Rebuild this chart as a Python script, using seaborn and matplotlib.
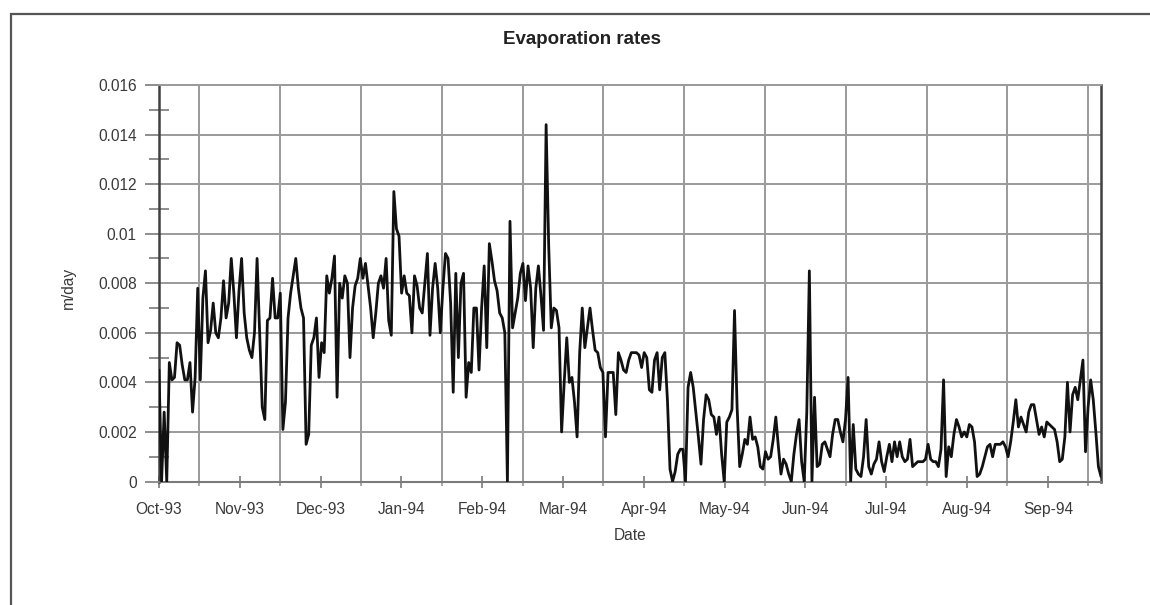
import numpy as np
import pandas as pd
import matplotlib
matplotlib.use("Agg")
import matplotlib.pyplot as plt
from matplotlib.patches import Rectangle
from matplotlib.ticker import FixedLocator
import seaborn as sns

# ---- data (m/day), daily values, Oct-93 .. Sep-94 ----
oct93 = [0.0045, 0.0, 0.0028, 0.0, 0.0048, 0.0041, 0.0042, 0.0056, 0.0055, 0.0047,
         0.0041, 0.0041, 0.0048, 0.0028, 0.0042, 0.0078, 0.0041, 0.0074, 0.0085, 0.0056,
         0.0061, 0.0072, 0.0060, 0.0058, 0.0066, 0.0081, 0.0066, 0.0072, 0.0090, 0.0076,
         0.0058]
nov93 = [0.0077, 0.0090, 0.0068, 0.0058, 0.0053, 0.0050, 0.0060, 0.0090, 0.0060,
         0.0030, 0.0025, 0.0065, 0.0066, 0.0082, 0.0066, 0.0066, 0.0076, 0.0021, 0.0032,
         0.0066, 0.0076, 0.0083, 0.0090, 0.0078, 0.0070, 0.0066, 0.0015, 0.0019, 0.0055,
         0.0058]
dec93 = [0.0066, 0.0042, 0.0056, 0.0052, 0.0083, 0.0076, 0.0082, 0.0091, 0.0034,
         0.0080, 0.0074, 0.0083, 0.0080, 0.0050, 0.0070, 0.0079, 0.0082, 0.0090, 0.0082,
         0.0088, 0.0079, 0.0070, 0.0058, 0.0068, 0.0080, 0.0083, 0.0078, 0.0090, 0.0065,
         0.0059, 0.0117]
jan94 = [0.0102, 0.0099, 0.0076, 0.0083, 0.0076, 0.0075, 0.0060, 0.0083,
         0.0079, 0.0070, 0.0068, 0.0080, 0.0092, 0.0059, 0.0078, 0.0088, 0.0078, 0.0060,
         0.0078, 0.0092, 0.0090, 0.0072, 0.0036, 0.0084, 0.0050, 0.0080, 0.0084, 0.0034,
         0.0048, 0.0044, 0.0070]
feb94 = [0.0070, 0.0045, 0.0070, 0.0087, 0.0054, 0.0096, 0.0089,
         0.0081, 0.0077, 0.0068, 0.0066, 0.0060, 0.0, 0.0105, 0.0062, 0.0068, 0.0074,
         0.0084, 0.0088, 0.0073, 0.0087, 0.0078, 0.0054, 0.0078, 0.0087, 0.0075, 0.0061,
         0.0144]
mar94 = [0.0095, 0.0062, 0.0070, 0.0069, 0.0062, 0.0020, 0.0040, 0.0058, 0.0040,
         0.0042, 0.0032, 0.0018, 0.0052, 0.0070, 0.0054, 0.0062, 0.0070, 0.0061, 0.0053,
         0.0052, 0.0046, 0.0044, 0.0018, 0.0044, 0.0044, 0.0044, 0.0027, 0.0052, 0.0049,
         0.0045, 0.0044]
apr94 = [0.0049, 0.0052, 0.0052, 0.0052, 0.0051, 0.0046, 0.0052, 0.0050,
         0.0037, 0.0036, 0.0049, 0.0052, 0.0037, 0.0050, 0.0052, 0.0033, 0.0005, 0.0,
         0.0004, 0.0011, 0.0013, 0.0013, 0.0, 0.0038, 0.0044, 0.0038, 0.0028, 0.0018,
         0.0007, 0.0025]
may94 = [0.0035, 0.0033, 0.0027, 0.0026, 0.0019, 0.0026, 0.0011, 0.0,
         0.0024, 0.0026, 0.0029, 0.0069, 0.0030, 0.0006, 0.0011, 0.0017, 0.0015, 0.0026,
         0.0017, 0.0018, 0.0014, 0.0006, 0.0005, 0.0012, 0.0009, 0.0010, 0.0017, 0.0026,
         0.0014, 0.0003, 0.0009]
jun94 = [0.0007, 0.0003, 0.0, 0.0011, 0.0019, 0.0025, 0.0008,
         0.0, 0.0028, 0.0085, 0.0, 0.0034, 0.0006, 0.0007, 0.0015, 0.0016, 0.0013,
         0.0010, 0.0019, 0.0025, 0.0025, 0.0020, 0.0016, 0.0025, 0.0042, 0.0, 0.0023,
         0.0005, 0.0003, 0.0002]
jul94 = [0.0010, 0.0025, 0.0006, 0.0003, 0.0007, 0.0009, 0.0016,
         0.0008, 0.0004, 0.0010, 0.0015, 0.0008, 0.0016, 0.0010, 0.0016, 0.0010, 0.0008,
         0.0009, 0.0017, 0.0006, 0.0007, 0.0008, 0.0008, 0.0008, 0.0009, 0.0015, 0.0009,
         0.0008, 0.0008, 0.0006, 0.0013]
aug94 = [0.0041, 0.0002, 0.0014, 0.0010, 0.0019, 0.0025,
         0.0022, 0.0018, 0.0020, 0.0018, 0.0023, 0.0022, 0.0016, 0.0002, 0.0003, 0.0006,
         0.0010, 0.0014, 0.0015, 0.0010, 0.0015, 0.0015, 0.0015, 0.0016, 0.0014, 0.0010,
         0.0016, 0.0024, 0.0033, 0.0022, 0.0026]
sep94 = [0.0023, 0.0020, 0.0028, 0.0031, 0.0031,
         0.0025, 0.0019, 0.0022, 0.0018, 0.0024, 0.0023, 0.0022, 0.0021, 0.0016, 0.0008,
         0.0009, 0.0018, 0.0040, 0.0020, 0.0035, 0.0038, 0.0033, 0.0041, 0.0049, 0.0012,
         0.0030, 0.0041, 0.0033, 0.0020, 0.0006, 0.0002]

month_labels = ["Oct-93", "Nov-93", "Dec-93", "Jan-94", "Feb-94", "Mar-94",
                "Apr-94", "May-94", "Jun-94", "Jul-94", "Aug-94", "Sep-94"]
ytick_values = [0, 0.002, 0.004, 0.006, 0.008, 0.01, 0.012, 0.014, 0.016]
ytick_labels = ["0", "0.002", "0.004", "0.006", "0.008", "0.01", "0.012", "0.014", "0.016"]

title = "Evaporation rates"
xlabel = "Date"
ylabel = "m/day"

# ---- assemble ----
values = (oct93 + nov93 + dec93 + jan94 + feb94 + mar94 + apr94 + may94
          + jun94 + jul94 + aug94 + sep94)
df = pd.DataFrame({"day": np.arange(len(values)), "evap": values})

sns.set_theme(style="white")
plt.rcParams["font.family"] = ["Liberation Sans", "DejaVu Sans"]

W, H = 1150, 605
fig = plt.figure(figsize=(W / 100, H / 100), dpi=100)
left, right, top, bottom = 159, 1101, 85, 481.5
ax = fig.add_axes([left / W, 1 - bottom / H, (right - left) / W, (bottom - top) / H])

sns.lineplot(data=df, x="day", y="evap", ax=ax, color="#111111", lw=2.0,
             estimator=None, zorder=3)

n_last = len(values) - 1
ax.set_xlim(0, n_last)
ax.set_ylim(0, 0.016)

step = n_last / 11.658
label_pos = [k * step for k in range(len(month_labels))]
grid_pos = [(k + 0.5) * step for k in range(len(month_labels))]
ax.set_xticks(label_pos)
ax.set_xticklabels(month_labels)
ax.xaxis.set_minor_locator(FixedLocator(grid_pos))

ax.set_yticks(ytick_values)
ax.set_yticklabels(ytick_labels)
ax.yaxis.set_minor_locator(FixedLocator([v + 0.001 for v in ytick_values[:-1]]))

grid_col = "#9a9a9a"
ax.grid(False)
ax.xaxis.grid(True, which="minor", color=grid_col, lw=1.4)
ax.yaxis.grid(True, which="major", color=grid_col, lw=1.4)
ax.set_axisbelow(True)

for side in ["top", "right", "left", "bottom"]:
    ax.spines[side].set_visible(True)
ax.spines["top"].set_color(grid_col)
ax.spines["top"].set_linewidth(1.4)
ax.spines["bottom"].set_color("#7a7a7a")
ax.spines["bottom"].set_linewidth(1.5)
ax.spines["left"].set_color("#404040")
ax.spines["left"].set_linewidth(1.8)
ax.spines["right"].set_color("#404040")
ax.spines["right"].set_linewidth(1.8)

txt_col = "#3a3a3a"
ax.tick_params(axis="x", which="major", direction="inout", length=9, width=1.2,
               color="#7a7a7a", labelsize=11.2, labelcolor=txt_col, pad=10, bottom=True)
ax.tick_params(axis="x", which="minor", direction="out", length=3, width=1.2,
               color=grid_col, bottom=True)
ax.tick_params(axis="y", which="major", direction="out", length=10, width=1.2,
               color="#7a7a7a", labelsize=11.2, labelcolor=txt_col, pad=6, left=True)
ax.tick_params(axis="y", which="minor", direction="inout", length=14, width=1.2,
               color="#7a7a7a", left=True)

ax.set_xlabel(xlabel, fontsize=11.2, color=txt_col, labelpad=8)
ax.set_ylabel("")
fig.text(68 / W, 1 - 288 / H, ylabel, rotation=90, ha="center", va="center",
         fontsize=11.2, color=txt_col)
fig.text(582 / W, 1 - 40 / H, title, ha="center", va="center",
         fontsize=13.5, fontweight="bold", color="#222222")

# outer chart-area frame (left and top edges visible)
fig.add_artist(Rectangle((11 / W, -0.2), 1.5, 0.2 + 1 - 14 / H,
                         transform=fig.transFigure, fill=False,
                         ec="#555555", lw=1.6))

fig.savefig("out.png", dpi=100)
